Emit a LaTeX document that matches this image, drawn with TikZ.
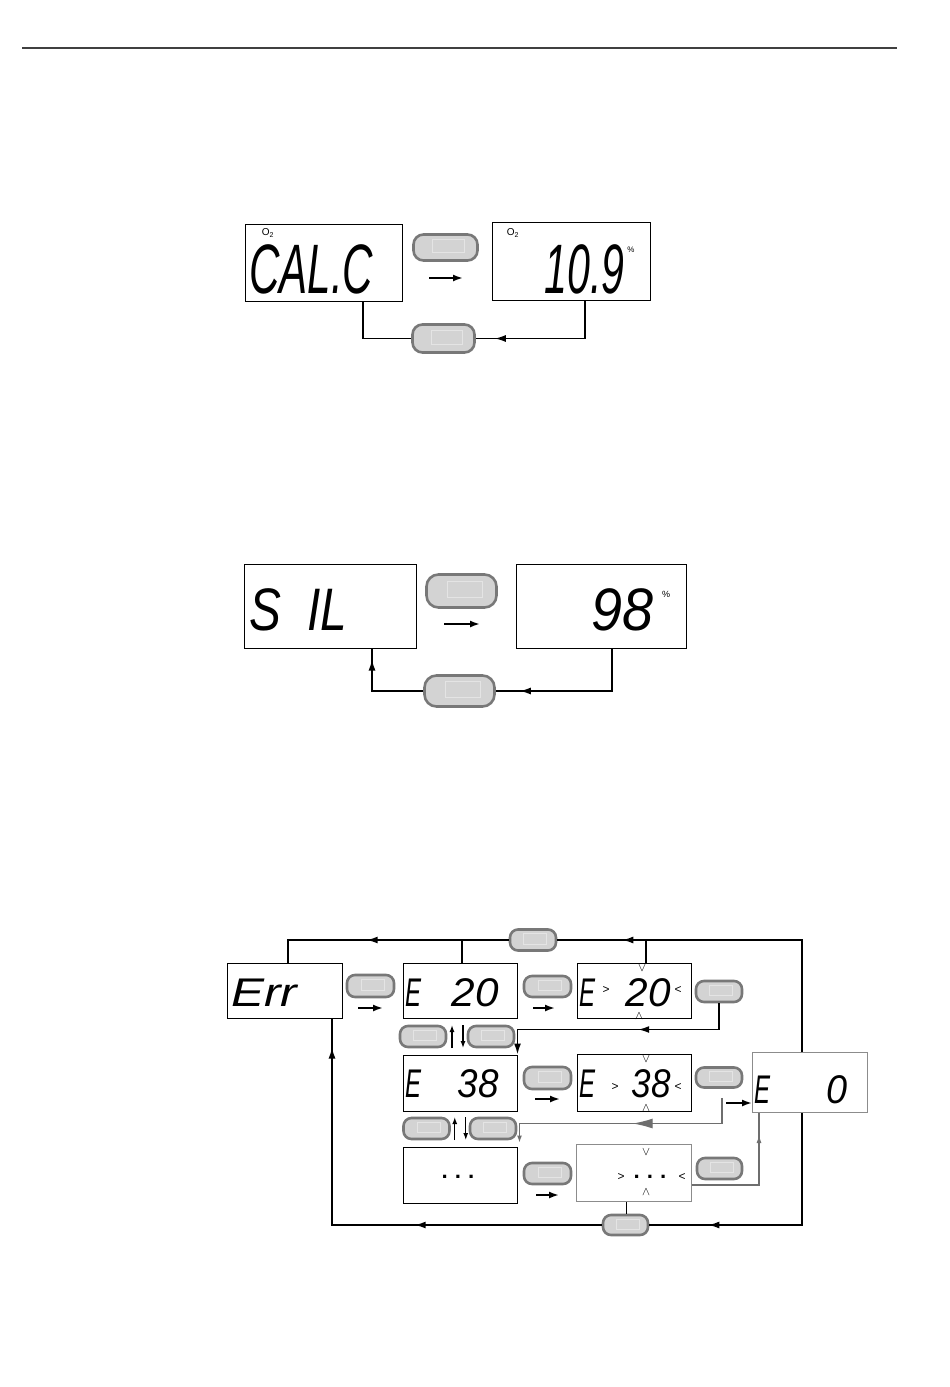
\documentclass[tikz,border=0pt]{standalone}
\usepackage{fontspec}
\setmainfont{Liberation Sans}
\newfontfamily\lcdfont{Liberation Mono}
\usetikzlibrary{arrows.meta, decorations.markings, calc}
\definecolor{btnfill}{RGB}{211,211,211}
\definecolor{btnrim}{RGB}{120,120,120}
\definecolor{btnhl}{RGB}{228,228,228}
\definecolor{wireg}{RGB}{110,110,110}
% segment display text: size, width, text
\newcommand\lcd[3]{{\fontsize{#1}{#1}\selectfont\itshape\resizebox{#2pt}{\height}{#3}}}

\begin{document}
\begin{tikzpicture}[x=1pt, y=-1pt,
disp/.style 2 args = {draw, line width=1pt, minimum width=#1pt, minimum height=#2pt, inner sep=0pt},
gdisp/.style 2 args = {disp={#1}{#2}, draw=black!45},
btn/.style 2 args = {draw=btnrim, fill=btnfill, line width=2.6pt, rounded corners=8pt,
    minimum width=#1pt, minimum height=#2pt, inner sep=0pt,
    path picture={\draw[btnhl, line width=0.8pt, sharp corners]
        ($(path picture bounding box.south west)!.3!(path picture bounding box.north east)$) rectangle
        ($(path picture bounding box.south west)!.8!(path picture bounding box.north east)$);}},
txt/.style = {inner sep=0pt},
sym/.style = {inner sep=0pt, font=\fontsize{12}{12}\selectfont},
wire/.style = {line width=1.6pt},
gwire/.style = {draw=wireg, line width=1.2pt},
arr/.style = {postaction={decorate, decoration={markings,
    mark=at position #1 with {\arrow{Latex[length=11pt,width=7pt]}}}}},
sarr/.style = {postaction={decorate, decoration={markings,
    mark=at position #1 with {\arrow{Latex[length=8pt,width=5pt]}}}}},
garr/.style = {postaction={decorate, decoration={markings,
    mark=at position #1 with {\arrow{Latex[length=20pt,width=10pt]}}}}},
steparr/.style = {line width=1.8pt, -{Latex[length=10pt,width=7pt]}},
udarr/.style = {line width=1.3pt, -{Latex[length=7pt,width=5pt]}},
                    ]
\useasboundingbox (0,0) rectangle (950,1387);
\draw[line width=1.5pt, black!75] (22,48) -- (897,48);
%
% CAL.C
\node[disp={157}{77}] (calc) at (323.5,262.5) {};
\node[disp={158}{78}] (pct) at (571,261) {};
\node[btn={64}{26}, rounded corners=10pt] (okA) at (445.5,247.5) {};
\node[btn={62}{28}, rounded corners=10pt] (escA) at (443.5,338.5) {};
\node[txt, anchor=base west] (calcT) at (249,293) {\lcd{70}{124}{CAL.C}};
\node[txt, anchor=base east] (pctT) at (625,293) {\lcd{70}{80}{10.9}};
\node[txt, font=\fontsize{10}{10}\selectfont] (o2a) at (268,233) {O\textsubscript{2}};
\node[txt, font=\fontsize{10}{10}\selectfont] (o2b) at (513,233) {O\textsubscript{2}};
\node[txt, font=\fontsize{8}{8}\selectfont] (pcA) at (631,250) {\%};
%
\draw[wire] ([xshift=39.5pt]calc.south) |- (escA.west);
\draw[wire, arr=-19pt] ([xshift=14pt]pct.south) |- (escA.east);
%
% S IL
\node[disp={172}{84}] (sil) at (330,606) {};
\node[disp={170}{84}] (val) at (601,606) {};
\node[btn={70}{33}, rounded corners=12pt] (okB) at (461.5,591) {};
\node[btn={70}{31}, rounded corners=12pt] (escB) at (459.5,691) {};
\node[txt, anchor=base west] (silT) at (249,630) {\lcd{60}{98}{S\hspace{0.55em}IL}};
\node[txt, anchor=base east] (valT) at (654,630) {\lcd{60}{62}{98}};
\node[txt, font=\fontsize{9}{9}\selectfont] (pcB) at (666,594) {\%};
%
\draw[wire, arr=-11pt] (escB.west) -| ([xshift=42pt]sil.south);
\draw[wire, arr=-24pt] ([xshift=11pt]val.south) |- (escB.east);
%
% Err
\node[disp={115}{55}] (err) at (284.5,990.5) {};
\node[disp={114}{55}] (e20) at (460,990.5) {};
\node[disp={114}{55}] (e20s) at (634,991) {};
\node[disp={114}{56}] (e38) at (460,1083) {};
\node[disp={114}{57}] (e38s) at (634,1082.5) {};
\node[gdisp={115}{60}] (e0) at (810,1082.5) {};
\node[disp={114}{56}] (edots) at (460,1175) {};
\node[gdisp={115}{57}] (edotss) at (633.5,1173) {};
%
\node[btn={46}{21}] (bTop) at (533,940) {};
\node[btn={47}{22}] (bErr) at (370.5,986) {};
\node[btn={47}{21}] (bE20) at (547.5,986.5) {};
\node[btn={46}{21}] (bE20s) at (719,991.5) {};
\node[btn={46}{21}] (bUpL) at (423,1036.5) {};
\node[btn={46}{21}] (bUpR) at (491,1036.5) {};
\node[btn={47}{22}] (bE38) at (547.5,1078) {};
\node[btn={46}{20}] (bE38s) at (719,1077.5) {};
\node[btn={46}{21}] (bDnL) at (426.5,1128.5) {};
\node[btn={46}{21}] (bDnR) at (493,1128.5) {};
\node[btn={47}{21}] (bDots) at (547.5,1173.5) {};
\node[btn={45}{21}] (bDotsS) at (719.5,1168.5) {};
\node[btn={45}{20}] (bBot) at (625.5,1225) {};
%
\node[txt, anchor=base west] (errT) at (231,1006) {\lcd{40}{66}{Err}};
\node[txt, anchor=base west] (e20E) at (405,1006) {\lcd{40}{16}{E}};
\node[txt, anchor=base east] (e20N) at (499,1006) {\lcd{40}{47}{20}};
\node[txt, anchor=base west] (e20sE) at (579,1006) {\lcd{40}{16}{E}};
\node[txt, anchor=base east] (e20sN) at (671,1006) {\lcd{40}{45}{20}};
\node[txt, anchor=base west] (e38E) at (405,1097) {\lcd{40}{16}{E}};
\node[txt, anchor=base east] (e38N) at (499,1097) {\lcd{40}{41}{38}};
\node[txt, anchor=base west] (e38sE) at (579,1097) {\lcd{40}{16}{E}};
\node[txt, anchor=base east] (e38sN) at (671,1097) {\lcd{40}{39}{38}};
\node[txt, anchor=base west] (e0E) at (754,1103) {\lcd{40}{16}{E}};
\node[txt, anchor=base east] (e0N) at (848,1103) {\lcd{40}{21}{0}};
\node[txt, font=\fontsize{22}{22}\selectfont\lcdfont\bfseries] (dotsT) at (458,1177) {...};
\node[txt, font=\fontsize{22}{22}\selectfont\lcdfont\bfseries] (dotssT) at (650,1177) {...};
\foreach \n/\x/\y/\s in {g20/606/990/>, l20/678/990/<, v20/642/968/$\vee$, w20/639/1016/$\wedge$,
    g38/615/1087/>, l38/678/1087/<, v38/646/1059/$\vee$, w38/646/1108/$\wedge$,
    gdd/621/1177/>, ldd/682/1177/<, vdd/646/1152/$\vee$, wdd/646/1192/$\wedge$}
    \node[sym] (\n) at (\x,\y) {\s};
%
% step arrows below the keys
\foreach \n/\xa/\xb/\y in {A/429/463/278, B/444/480/624, 1/358/383/1008, 2/533/555/1008,
    3/535/560/1099, 4/536/559/1195}
    {\coordinate (s\n0) at (\xa,\y); \coordinate (s\n1) at (\xb,\y);
     \draw[steparr] (s\n0) -- (s\n1);}
\coordinate (s50) at (726,1103);
\draw[steparr] (s50) -- (s50 -| e0.west);
%
\coordinate (ud1) at ($(bUpL.east)!.5!(bUpR.west)$);
\coordinate (ud2) at ($(bDnL.east)!.5!(bDnR.west)$);
\draw[udarr] ($(ud1)+(-5,11.5)$) -- ($(ud1)+(-5,-11.5)$);
\draw[udarr] ($(ud1)+(6,-11.5)$) -- ($(ud1)+(6,11.5)$);
\draw[udarr] ($(ud2)+(-5,11.5)$) -- ($(ud2)+(-5,-11.5)$);
\draw[udarr] ($(ud2)+(6,-11.5)$) -- ($(ud2)+(6,11.5)$);
%
% loops
\draw[wire, arr=-65pt] ([xshift=-8pt]e0.north) |- (bTop.east);
\draw[wire, arr=142pt] (bTop.west) -| ([xshift=3.5pt]err.north);
\coordinate (j20) at ([xshift=2pt]e20.north);
\coordinate (j20s) at ([xshift=12pt]e20s.north);
\draw[wire] (j20) -- (j20 |- bTop.west);
\draw[wire] (j20s) -- (j20s |- bTop.east);
%
\draw[wire, arr=-59pt] ([xshift=-8pt]e0.south) |- (bBot.east);
\draw[wire, arr=187pt, arr=-29pt] (bBot.west) -| ([xshift=47.5pt]err.south);
\coordinate (jdd) at ([xshift=-7pt]edotss.south);
\draw[wire] (jdd) -- (jdd |- bBot.north);
%
\draw[wire, arr=107pt, -{Latex[length=11pt,width=7pt]}] (bE20s.south)
    |- ([yshift=25pt]e38.north east) -- (e38.north east);
\draw[gwire, garr=115pt, -{Latex[length=7pt,width=5pt]}] ([xshift=3pt,yshift=-9pt]bE38s.south)
    |- ([xshift=2pt,yshift=23pt]edots.north east) -- ([xshift=2pt,yshift=4pt]edots.north east);
\draw[gwire, sarr=-22pt] ([yshift=-12pt]edotss.east) -| ([xshift=-51pt]e0.south);
%

\end{tikzpicture}
\end{document}
